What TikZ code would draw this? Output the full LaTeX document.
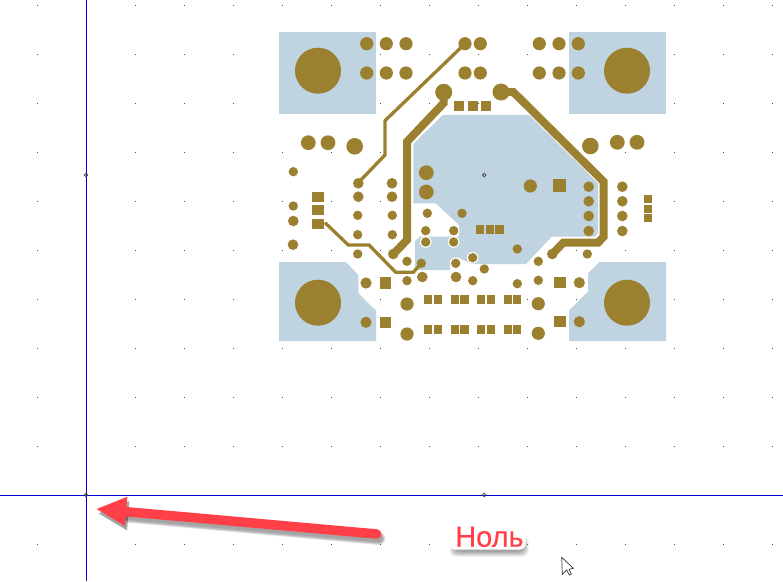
\documentclass[tikz,border=0pt]{standalone}
\usepackage{fontspec}
\setmainfont{Liberation Sans}
\newfontfamily\labelfont[FakeBold=0.35]{Liberation Sans}
\definecolor{copper}{HTML}{9A802F}
\definecolor{pour}{HTML}{BFD3E0}
\definecolor{axisblue}{HTML}{0000D8}
\definecolor{redmark}{HTML}{FF4048}
\definecolor{griddot}{HTML}{555555}
\tikzset{
  cu/.style={fill=copper,draw=none},
  pourfill/.style={fill=pour,draw=none},
  thin trace/.style={draw=copper,line width=3.3pt,line join=miter,line cap=butt},
  thick trace/.style={draw=copper,line width=8pt,line join=miter,line cap=butt},
  axisline/.style={draw=axisblue,line width=1pt},
  marker/.style={draw=black!70,line width=.8pt},
}
\newcommand{\dotsat}[2]{\foreach \px/\py in {#2}{\fill[cu] (\px,\py) circle (#1);}}
\newcommand{\squaresat}[3]{\foreach \px/\py in {#3}{\fill[cu] (\px-#1/2,\py-#2/2) rectangle (\px+#1/2,\py+#2/2);}}
\begin{document}
\begin{tikzpicture}[x=1pt,y=-1pt]
\useasboundingbox (0,0) rectangle (783,581);
\fill[white] (0,0) rectangle (783,581);
% grid
\foreach \gx in {37,86,...,772}{
  \foreach \gy in {5,54,...,544}{
    \fill[griddot] (\gx-.5,\gy-.5) rectangle (\gx+.5,\gy+.5);
  }
}
% pads
\fill[pourfill] (279,32) rectangle (376,114);
\fill[pourfill] (569,32) rectangle (666,114);
\fill[pourfill] (279,262) -- (346,262) -- (358.3,275) -- (358.3,293.3) -- (376,310.7) -- (376,341) -- (279,341) -- cycle;
\fill[pourfill] (569,341) -- (666,341) -- (666,262) -- (599.3,262) -- (588,273.3) -- (588,291.7) -- (569,310.7) -- cycle;
% main pour
\fill[pourfill] (442.7,115) -- (529.3,115) -- (598,183) -- (598,233) -- (595,236.7) -- (551.7,236.7) -- (526,264) -- (472,264) -- (459,258) -- (450,260) -- (450,270) -- (415,270) -- (415,241) -- (420,236.7) -- (459,236.7) -- (459,225) -- (435.7,203.3) -- (413.3,203.3) -- (413.3,144) -- cycle;
% clearance rings
\foreach \px/\py in {425.7/242,453.7/242,453.7/230.7,455.7/263.3,472.7/257.7}{\fill[white] (\px,\py) circle (5.8);}
% big holes
\dotsat{23}{318/70.7,627/70.7,318/302.7,627/302.7}
% traces
\draw[thin trace] (465,43.7) -- (385,120.7) -- (385,155) -- (358.3,182.7);
\draw[thin trace] (325,222.7) -- (348.3,245) -- (369,245) -- (395.7,272.3) -- (413.3,272.3) -- (421.3,263.3);
\draw[thick trace] (443.7,95) -- (443.7,103) -- (407,141.7) -- (407,240) -- (393.3,254);
\draw[thick trace] (501,92) -- (513.3,92) -- (603.7,181.7) -- (603.7,236.7) -- (598,242.7) -- (563.3,242.7) -- (552.3,254);
% top rows
\dotsat{6.6}{366.7/43.7,386.3/43.7,406/43.7,465/43.7,480.3/43.7,539.3/43.7,559/43.7,578.3/43.7,
 366.7/73,386.3/73,406/73,465/73,480.3/73,539.3/73,559/73,578.3/73}
\dotsat{8.5}{443.7/92.3,501/92}
\dotsat{7.4}{308.3/142.7,328/142.7,617.3/142.3,637/142.3,426.3/172.7,426.3/192}
\dotsat{8.3}{354.7/146.3,590.3/146}
\dotsat{6.6}{530.3/186,407/304,407/334,538.3/303.7,538.3/333.3}
\dotsat{5.6}{366/283,366/322.3,579.3/282.7,579.3/321.7}
\dotsat{5.3}{358.3/183.3,358.3/196.7,392/183.3,392/196.7,293.3/221,293/244.7,422.3/277,456/277,393.3/254,552.3/254,
 588.7/186.7,588.7/201.3,588.7/216,588.7/231,622.3/186.7,622.3/201.3,622.3/216,622.3/231}
\dotsat{4.7}{293.3/171.7,293.3/206,357.7/215.3,357.7/234.7,357.7/254,392.3/215.3,392.3/234.7,
 427.3/213.3,462/213.3,425.7/230.7,453.7/230.7,425.7/242,453.7/242,407/261.3,421.3/263.3,455.7/263.3,
 472.7/257.7,472.7/280.7,407/280.7,517.3/249,484.3/269,517.3/283.7,538.3/261.3,538.3/280.3,587.3/254}
% squares
\squaresat{10}{10}{459/106.3,472.7/106.3,486/106.3}
\squaresat{13}{13}{559.3/185.7}
\squaresat{12}{10}{318/197,318/210.3,318/223.7}
\squaresat{11}{11.5}{385.3/283,385.3/322.3}
\squaresat{12}{11.5}{560/282.7,560/321.7}
\squaresat{8.5}{8.5}{480/229.3,490/229.3,499.3/229.3}
\squaresat{8.5}{8.5}{428/299.3,438/299.3,455/299.3,464.3/299.3,481/299.3,491/299.3,508/299.3,517/299.3,
 428/329.3,438/329.3,455/329.3,464.3/329.3,481/329.3,491/329.3,508/329.3,517/329.3}
\squaresat{8}{8}{648/198.8,648/208.5,648/218.3}
% axes
\draw[axisline] (86,0) -- (86,581);
\draw[axisline] (0,495) -- (783,495);
% origin markers
\foreach \mx/\my in {86/175,86/495,484.3/175,484.3/495}{\draw[marker] (\mx,\my) circle (1.8);}
% arrow shadow
\foreach \w/\dx/\dy in {13/2/4.5,11.5/2/4.5,10/2/4.5,8.5/2/4}{
  \begin{scope}[opacity=.1,xshift=\dx pt,yshift=-\dy pt]
    \fill[black,rounded corners=.5pt] (96.7,509) -- (127.3,496.7) -- (125,526) -- cycle;
    \draw[black,line width=\w pt,line cap=round] (126,511.7) -- (376.7,534);
  \end{scope}
}
% arrow
\fill[redmark] (96.7,509) -- (127.3,496.7) -- (125,526) -- cycle;
\draw[redmark,line width=9.5pt,line cap=round] (124,511.5) -- (376.7,534);
% label halo and shadow
\foreach \ins in {0,1,2,3,4,5}{
  \fill[black,opacity=.07,rounded corners=5pt] (450+\ins,536+\ins) rectangle (528.5-\ins,556.5-\ins);
}
\fill[white,rounded corners=5pt] (449,521) rectangle (525.5,549.5);
\node[anchor=base west,inner sep=0pt,text=redmark,font=\labelfont\fontsize{29}{29}\selectfont] (label) at (455,546.7) {Ноль};
% cursor
\draw[black!80,fill=white,line width=.7pt,line join=miter] (561.7,557.3) -- (562.3,574.3) -- (566.7,570) -- (569.3,575) -- (571.3,574) -- (569,569.3) -- (573.3,568.3) -- cycle;
\end{tikzpicture}
\end{document}
